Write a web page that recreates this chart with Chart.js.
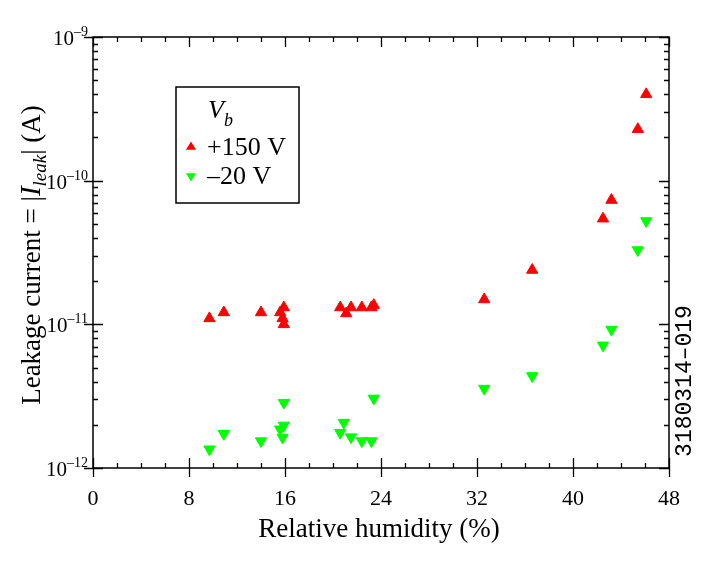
<!DOCTYPE html>
<html><head><meta charset="utf-8">
<script src="https://cdn.jsdelivr.net/npm/chart.js@4/dist/chart.umd.min.js"></script>
<style>html,body{margin:0;padding:0;background:#fff}#wrap{width:706px;height:562px;position:relative}</style>
</head><body><div id="wrap"><canvas id="c" width="706" height="562"></canvas></div>
<script>
// ---- data ----
const humidityPos = [9.7, 10.9, 14.0, 15.6, 15.9, 15.8, 15.9, 20.6, 21.1, 21.5, 22.4, 23.2, 23.4, 32.6, 36.6, 42.5, 43.2, 45.4, 46.1];
const leakPos     = [1.10e-11, 1.21e-11, 1.21e-11, 1.21e-11, 1.31e-11, 1.10e-11, 1.00e-11, 1.31e-11, 1.19e-11, 1.31e-11, 1.31e-11, 1.31e-11, 1.36e-11, 1.49e-11, 2.39e-11, 5.44e-11, 7.33e-11, 2.28e-10, 3.99e-10];
const humidityNeg = [9.7, 10.9, 14.0, 15.9, 15.6, 15.9, 15.8, 20.6, 20.9, 21.5, 22.4, 23.2, 23.4, 32.6, 36.6, 42.5, 43.2, 45.4, 46.1];
const leakNeg     = [1.35e-12, 1.73e-12, 1.54e-12, 2.85e-12, 1.86e-12, 1.98e-12, 1.63e-12, 1.76e-12, 2.07e-12, 1.64e-12, 1.54e-12, 1.54e-12, 3.05e-12, 3.57e-12, 4.37e-12, 7.14e-12, 9.2e-12, 3.29e-11, 5.24e-11];
const seriesLabels = ['+150 V', '\u201320 V'];
const legendTitle = ['V', 'b'];
const xTickLabels = [0, 8, 16, 24, 32, 40, 48];
const xMinorStep = 2;
const yDecadeExps = [-12, -11, -10, -9];
const xTitle = 'Relative humidity (%)';
const yTitleParts = ['Leakage current = |', 'I', 'leak', '| (A)'];
const figureCode = '3180314\u2013019';

const SERIF = '"Liberation Serif", "Times New Roman", serif';

function toPts(xs, ys){ return xs.map((x,i)=>({x:x, y:ys[i]})); }

function drawRich(ctx, parts, x, y, align){
  let w = 0;
  parts.forEach(p=>{ ctx.font = p.font; p.w = ctx.measureText(p.t).width; w += p.w; });
  let cx = align === 'center' ? x - w/2 : (align === 'right' ? x - w : x);
  ctx.textAlign = 'left';
  parts.forEach(p=>{ ctx.font = p.font; ctx.fillText(p.t, cx, y + (p.dy||0)); cx += p.w; });
  return w;
}

const framePlugin = {
  id: 'frame',
  afterDatasetsDraw(chart){
    const ctx = chart.ctx, a = chart.chartArea;
    const xs = chart.scales.x, ys = chart.scales.y;
    ctx.save();
    ctx.strokeStyle = '#000'; ctx.fillStyle = '#000';
    ctx.lineWidth = 1.5;
    ctx.strokeRect(a.left, a.top, a.right - a.left, a.bottom - a.top);
    ctx.lineWidth = 1.3;
    ctx.beginPath();
    // x ticks
    const xmin = xTickLabels[0], xmax = xTickLabels[xTickLabels.length-1];
    for (let v = xmin; v <= xmax + 1e-9; v += xMinorStep){
      const px = Math.round(xs.getPixelForValue(v)) + 0.5;
      const major = xTickLabels.includes(v);
      const inL = major ? 10 : 5;
      ctx.moveTo(px, a.bottom + (major ? 9 : 0)); ctx.lineTo(px, a.bottom - inL);
      ctx.moveTo(px, a.top); ctx.lineTo(px, a.top + inL);
    }
    // y ticks
    for (let i = 0; i < yDecadeExps.length; i++){
      const e = yDecadeExps[i];
      for (let m = 1; m <= 9; m++){
        if (m > 1 && i === yDecadeExps.length - 1) break;
        const v = m * Math.pow(10, e);
        const py = Math.round(ys.getPixelForValue(v)) + 0.5;
        const major = m === 1;
        const inL = major ? 10 : 5;
        ctx.moveTo(a.left - (major ? 9 : 0), py); ctx.lineTo(a.left + inL, py);
        ctx.moveTo(a.right, py); ctx.lineTo(a.right - inL, py);
      }
    }
    ctx.stroke();

    // x tick labels
    ctx.textBaseline = 'alphabetic';
    ctx.font = '22px ' + SERIF;
    ctx.textAlign = 'center';
    xTickLabels.forEach(v=>{ ctx.fillText(String(v), xs.getPixelForValue(v), 505); });
    // y tick labels
    yDecadeExps.forEach(e=>{
      const py = ys.getPixelForValue(Math.pow(10, e));
      drawRich(ctx, [
        {t:'10', font:'21px ' + SERIF},
        {t:'\u2013' + Math.abs(e), font:'14px ' + SERIF, dy:-9}
      ], 88, py + 8, 'right');
    });
    // x title
    ctx.font = '27px ' + SERIF; ctx.textAlign = 'center';
    ctx.fillText(xTitle, 379, 537);
    // y title (rotated)
    ctx.save();
    ctx.translate(40, 255);
    ctx.rotate(-Math.PI/2);
    drawRich(ctx, [
      {t:yTitleParts[0], font:'27px ' + SERIF},
      {t:yTitleParts[1], font:'italic 29px ' + SERIF},
      {t:yTitleParts[2], font:'italic 19px ' + SERIF, dy:6},
      {t:yTitleParts[3], font:'27px ' + SERIF}
    ], 0, 0, 'center');
    ctx.restore();

    // legend box
    ctx.lineWidth = 1.5;
    ctx.strokeRect(176, 87, 123, 116);
    drawRich(ctx, [
      {t:legendTitle[0], font:'italic 26px ' + SERIF},
      {t:legendTitle[1], font:'italic 18px ' + SERIF, dy:8}
    ], 208, 118, 'left');
    const ds = chart.data.datasets;
    const rows = [155, 184];
    ds.forEach((d, i)=>{
      const cy = rows[i] - 8;
      ctx.fillStyle = d.backgroundColor;
      ctx.beginPath();
      const r = 5.5, up = d.rotation === 0;
      if (up){ ctx.moveTo(191, cy - r); ctx.lineTo(191 + r*0.92, cy + r/2); ctx.lineTo(191 - r*0.92, cy + r/2); }
      else   { ctx.moveTo(191, cy + r); ctx.lineTo(191 + r*0.92, cy - r/2); ctx.lineTo(191 - r*0.92, cy - r/2); }
      ctx.closePath(); ctx.fill();
      ctx.fillStyle = '#000';
      ctx.font = '26px ' + SERIF; ctx.textAlign = 'left';
      ctx.fillText(d.label, 207, rows[i]);
    });

    // figure code on the right
    ctx.save();
    ctx.translate(691, 381);
    ctx.rotate(-Math.PI/2);
    ctx.font = '23px "Liberation Mono", monospace';
    ctx.textAlign = 'center';
    ctx.fillText(figureCode, 0, 0);
    ctx.restore();
    ctx.restore();
  }
};

new Chart(document.getElementById('c'), {
  type: 'scatter',
  data: {
    datasets: [
      { label: seriesLabels[0], data: toPts(humidityPos, leakPos), pointStyle: 'triangle', rotation: 0,
        backgroundColor: '#ff0000', borderColor: '#ff0000', borderWidth: 1, pointRadius: 6.5, pointHoverRadius: 6.5 },
      { label: seriesLabels[1], data: toPts(humidityNeg, leakNeg), pointStyle: 'triangle', rotation: 180,
        backgroundColor: '#00ff00', borderColor: '#00ff00', borderWidth: 1, pointRadius: 6.5, pointHoverRadius: 6.5 }
    ]
  },
  options: {
    responsive: false, animation: false, devicePixelRatio: 1,
    layout: { padding: { left: 93, right: 37, top: 37, bottom: 94 } },
    plugins: { legend: { display: false }, tooltip: { enabled: false } },
    scales: {
      x: { type: 'linear', min: xTickLabels[0], max: xTickLabels[xTickLabels.length-1], display: false },
      y: { type: 'logarithmic', min: Math.pow(10, yDecadeExps[0]), max: Math.pow(10, yDecadeExps[yDecadeExps.length-1]), display: false }
    }
  },
  plugins: [framePlugin]
});
</script>
</body></html>
